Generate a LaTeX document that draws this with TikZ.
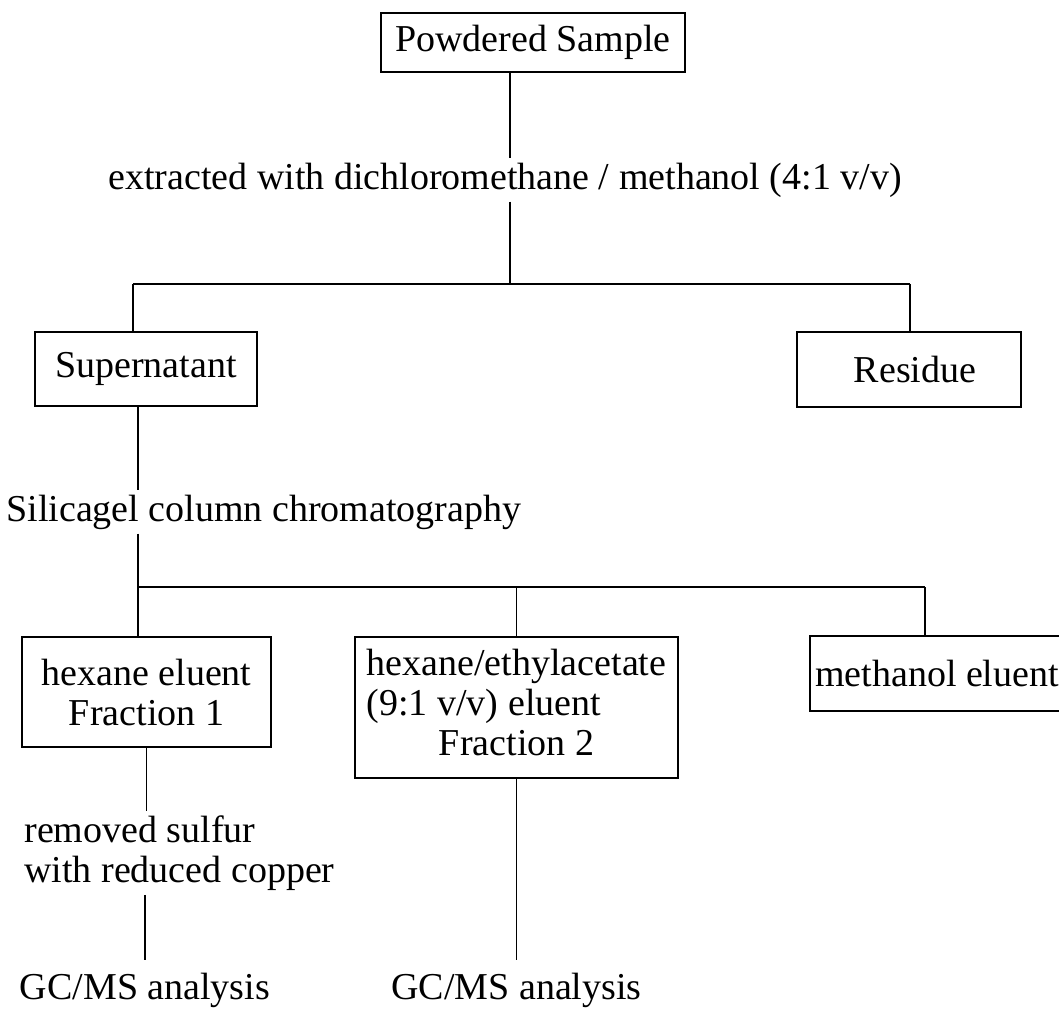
\documentclass[tikz,border=0pt]{standalone}
\usepackage{fontspec}
\setmainfont{Liberation Serif}
\usetikzlibrary{positioning}

\begin{document}
\begin{tikzpicture}[x=0.5pt, y=-0.5pt, font=\fontsize{19}{20}\selectfont,
    box/.style={draw, line width=1.1pt, inner sep=0pt, align=center},
    txt/.style={inner sep=2pt},
    link/.style={line width=0.7pt}]
    \useasboundingbox (0,0) rectangle (1059,1010);
    % ---------------- extraction
    \node[box, minimum width=152pt, minimum height=29.5pt] (ps) at (533,42.5) {Powdered Sample};
    \node[txt] (extr) at (505,180) {extracted with dichloromethane / methanol (4:1 v/v)};
    \node[box, minimum width=111pt, minimum height=37pt] (super) at (146,369) {Supernatant};
    \node[box, minimum width=112pt, minimum height=37.5pt] (resid) at (909,369.5) {\hspace*{6pt}Residue};
    \coordinate (j1) at (510,284);
    \coordinate (j1l) at (133,284);
    \coordinate (j1r) at (910,284);
    \draw[link] (j1 |- ps.south) -- (j1 |- extr.north);
    \draw[link] (j1 |- extr.south) -- (j1);
    \draw[link] (j1l) -- (j1r);
    \draw[link] (j1l) -- (j1l |- super.north);
    \draw[link] (j1r) -- (j1r |- resid.north);
    % ---------------- column
    \node[txt, anchor=west] (silica) at (2,512) {Silicagel column chromatography};
    \node[box, minimum width=124.5pt, minimum height=55pt] (hexfr) at (146.5,692) {hexane eluent\\Fraction 1};
    \node[box, minimum width=161.5pt, minimum height=70.5pt] (ethfr) at (516.5,707.5)
      {\begin{tabular}{@{}l@{}}hexane/ethylacetate\\(9:1 v/v) eluent\\\multicolumn{1}{@{}c@{}}{Fraction 2}\end{tabular}};
    \node[box, minimum width=127pt, minimum height=37.5pt] (methfr) at (937,673.5) {methanol eluent};
    \coordinate (j2l) at (138,587);
    \coordinate (j2r) at (925,587);
    \draw[link] (j2l |- super.south) -- (j2l |- silica.north);
    \draw[link] (j2l |- silica.south) -- (j2l);
    \draw[link] (j2l) -- (j2r);
    \draw[link] (j2l) -- (j2l |- hexfr.north);
    \draw[link] (ethfr.north |- j2l) -- (ethfr.north);
    \draw[link] (j2r) -- (j2r |- methfr.north);
    % ---------------- analysis
    \node[txt, anchor=west, align=left] (sulfur) at (20,853) {removed sulfur\\with reduced copper};
    \node[txt] (gcms1) at (145,990) {GC/MS analysis};
    \node[txt] (gcms2) at (516.5,990) {GC/MS analysis};
    \draw[link] (hexfr.south) -- (hexfr.south |- sulfur.north);
    \draw[link, shorten >=4pt] (gcms1.north |- sulfur.south) -- (gcms1.north);
    \draw[link, shorten >=4pt] (ethfr.south) -- (ethfr.south |- gcms2.north);
\end{tikzpicture}
\end{document}
